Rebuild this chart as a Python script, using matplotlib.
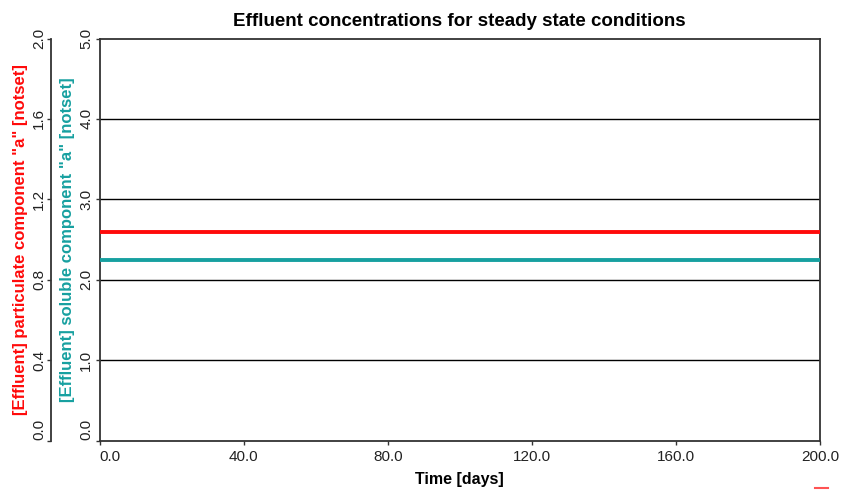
import matplotlib.pyplot as plt
from matplotlib.ticker import FormatStrFormatter
from matplotlib.lines import Line2D

plt.rcParams['font.family'] = ['Liberation Sans', 'DejaVu Sans']

# steady state effluent values over the simulated period
time_days = [0.0, 200.0]
soluble_a = [2.24, 2.24]
particulate_a = [1.035, 1.035]

x_ticks = [0, 40, 80, 120, 160, 200]
soluble_ticks = [0, 1, 2, 3, 4, 5]
particulate_ticks = [0.0, 0.4, 0.8, 1.2, 1.6, 2.0]

red = '#ff0a0a'
teal = '#17a0a0'
spine_col = '#333333'

fig = plt.figure(figsize=(8.41, 4.91), dpi=100)
ax_w = 720.5
ax = fig.add_axes([99.5 / 841, 1 - 440.5 / 491, ax_w / 841, 402 / 491])
ax2 = ax.twinx()

# soluble component on the inner axis
ax.plot(time_days, soluble_a, color=teal, lw=2.8, solid_capstyle='butt', zorder=3)
ax.set_xlim(0, 200)
ax.set_ylim(0, 5)
ax.set_xticks(x_ticks)
ax.set_yticks(soluble_ticks)
ax.xaxis.set_major_formatter(FormatStrFormatter('%.1f'))
ax.yaxis.set_major_formatter(FormatStrFormatter('%.1f'))
for v in soluble_ticks[1:-1]:
    ax.axhline(v, color='black', lw=1.0, zorder=1)
ax.set_xlabel('Time [days]', fontsize=11.5, fontweight='bold', labelpad=6)
ax.set_ylabel('[Effluent] soluble component "a" [notset]', fontsize=12,
              fontweight='bold', color=teal)
ax.yaxis.label.set_va('center')
ax.yaxis.set_label_coords((68 - 99.5) / ax_w, 0.5)

# particulate component on the outer axis
ax2.plot(time_days, particulate_a, color=red, lw=2.8, solid_capstyle='butt', zorder=3)
ax2.set_ylim(0, 2)
ax2.set_yticks(particulate_ticks)
ax2.yaxis.set_major_formatter(FormatStrFormatter('%.1f'))
ax2.yaxis.set_ticks_position('left')
ax2.yaxis.set_label_position('left')
ax2.spines['left'].set_position(('axes', -48.5 / ax_w))
ax2.spines['right'].set_visible(False)
ax2.spines['top'].set_visible(False)
ax2.spines['bottom'].set_visible(False)
ax2.set_ylabel('[Effluent] particulate component "a" [notset]', fontsize=12,
               fontweight='bold', color=red)
ax2.yaxis.label.set_va('center')
ax2.yaxis.set_label_coords((20.5 - 99.5) / ax_w, 0.5)

for a in (ax, ax2):
    for s in a.spines.values():
        s.set_color(spine_col)
        s.set_linewidth(1.3)
    a.tick_params(colors=spine_col, labelcolor='#222222', labelsize=11,
                  length=3, width=1)
ax.tick_params(axis='y', pad=1.5)
ax2.tick_params(axis='y', pad=0.5)

fig.canvas.draw()
# rotated y labels, lowest one lifted above the bottom edge
for a in (ax, ax2):
    labs = a.get_yticklabels()
    for lab in labs:
        lab.set_rotation(90)
        lab.set_va('center')
    labs[0].set_va('bottom')
xlabs = ax.get_xticklabels()
xlabs[0].set_ha('left')

ax.set_title('Effluent concentrations for steady state conditions',
             fontsize=13.5, fontweight='bold', pad=9)

# small red legend stub in the lower right corner
fig.add_artist(Line2D([815 / 841, 828 / 841], [1 - 488 / 491, 1 - 488 / 491],
                      color=red, lw=1.5, alpha=0.7))

fig.savefig('out.png', dpi=100)
